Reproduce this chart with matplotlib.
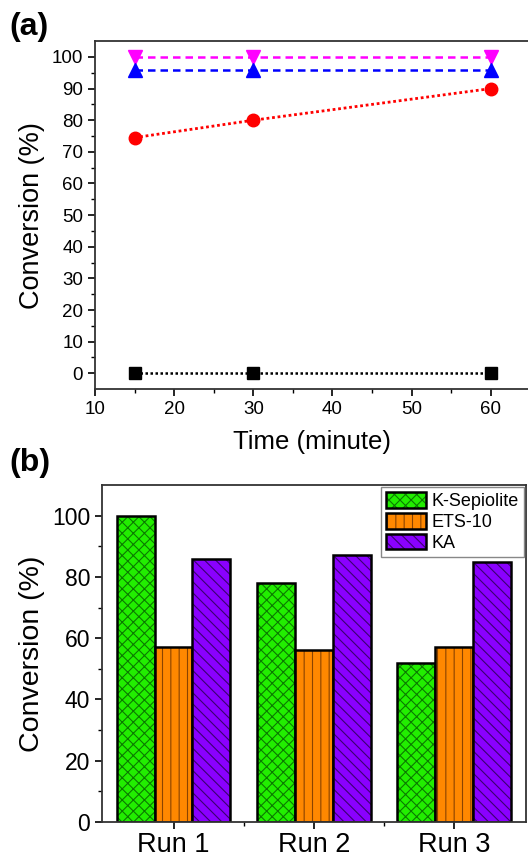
import matplotlib
matplotlib.use('Agg')
import numpy as np
import matplotlib.pyplot as plt
from matplotlib.patches import Patch

plt.rcParams['font.family'] = ['Liberation Sans', 'DejaVu Sans']
plt.rcParams['hatch.linewidth'] = 0.8

# panel (a): conversion vs time
time_min = [15, 30, 60]
conv_magenta = [100, 100, 100]
conv_blue = [96, 96, 96]
conv_red = [74.5, 80, 90]
conv_black = [0, 0, 0]

# panel (b): recycling runs
runs = ['Run 1', 'Run 2', 'Run 3']
catalysts = ['K-Sepiolite', 'ETS-10', 'KA']
run_values = {
    'K-Sepiolite': [100, 78, 52],
    'ETS-10': [57, 56, 57],
    'KA': [86, 87, 85],
}
bar_colors = {'K-Sepiolite': '#22ee00', 'ETS-10': '#ff8800', 'KA': '#8a00ff'}
hatch_colors = {'K-Sepiolite': '#0b7a00', 'ETS-10': '#8a4300', 'KA': '#3a0070'}
hatches = {'K-Sepiolite': 'xxx', 'ETS-10': '||', 'KA': '\\\\\\'}

fig = plt.figure(figsize=(5.28, 8.57), dpi=100)

# ---- (a) ----
ax1 = fig.add_axes([0.180, 0.546, 0.82, 0.406])
ax1.plot(time_min, conv_magenta, color='magenta', ls=(0, (3, 2)), lw=1.8,
         marker='v', ms=10, mec='magenta')
ax1.plot(time_min, conv_blue, color='blue', ls=(0, (3, 2)), lw=1.8,
         marker='^', ms=10, mec='blue')
ax1.plot(time_min, conv_red, color='red', ls=(0, (1, 1)), lw=2,
         marker='o', ms=9, mec='red')
ax1.plot(time_min, conv_black, color='black', ls=(0, (1, 1)), lw=1.8,
         marker='s', ms=8, mec='black')
ax1.set_xlim(10, 64.7)
ax1.set_ylim(-5, 105)
ax1.set_xticks(range(10, 61, 10))
ax1.set_xticks(range(15, 61, 10), minor=True)
ax1.set_yticks(range(0, 101, 10))
ax1.set_yticks(range(5, 101, 10), minor=True)
ax1.spines['right'].set_visible(False)
for s in ax1.spines.values():
    s.set_linewidth(1.3)
    s.set_color('#333333')
ax1.tick_params(which='major', direction='out', length=5, width=1.2, labelsize=13.5)
ax1.tick_params(which='minor', direction='out', length=3, width=1.0)
ax1.set_xlabel('Time (minute)', fontsize=18.5, labelpad=9)
ax1.set_ylabel('Conversion (%)', fontsize=19.5, labelpad=5)
fig.text(0.018, 1 - 12 / 857, '(a)', fontsize=23, fontweight='bold', va='top')

# ---- (b) ----
ax2 = fig.add_axes([0.193, 0.041, 0.803, 0.393])
x = np.arange(1, len(runs) + 1)
w = 0.27
for i, cat in enumerate(catalysts):
    pos = x + (i - 1) * w
    ax2.bar(pos, run_values[cat], w, color=bar_colors[cat],
            edgecolor=hatch_colors[cat], hatch=hatches[cat], linewidth=0)
    ax2.bar(pos, run_values[cat], w, color='none', edgecolor='black', linewidth=1.8)
ax2.set_xlim(0.49, 3.51)
ax2.set_ylim(0, 110)
ax2.set_xticks(x)
ax2.set_xticklabels(runs)
ax2.set_xticks([1.5, 2.5], minor=True)
ax2.set_yticks(range(0, 101, 20))
ax2.set_yticks(range(10, 101, 20), minor=True)
for s in ax2.spines.values():
    s.set_linewidth(1.3)
    s.set_color('#333333')
ax2.tick_params(axis='x', which='major', direction='out', length=5, width=1.2, labelsize=19.5, pad=2)
ax2.tick_params(axis='y', which='major', direction='out', length=5, width=1.2, labelsize=16.5)
ax2.tick_params(which='minor', direction='out', length=3, width=1.0)
ax2.set_ylabel('Conversion (%)', fontsize=20.5, labelpad=5)
fig.text(0.018, 1 - 448 / 857, '(b)', fontsize=23, fontweight='bold', va='top')

handles = [(Patch(facecolor=bar_colors[c], edgecolor=hatch_colors[c], hatch=hatches[c], linewidth=0),
            Patch(facecolor='none', edgecolor='black', linewidth=1.8))
           for c in catalysts]
leg = ax2.legend(handles, catalysts, loc='upper right', fontsize=13,
                 handlelength=2.2, handleheight=0.95, labelspacing=0.15,
                 handletextpad=0.3, borderpad=0.3, borderaxespad=0.1,
                 fancybox=False, edgecolor='#888888', framealpha=1)

fig.savefig('out.png', dpi=100)
